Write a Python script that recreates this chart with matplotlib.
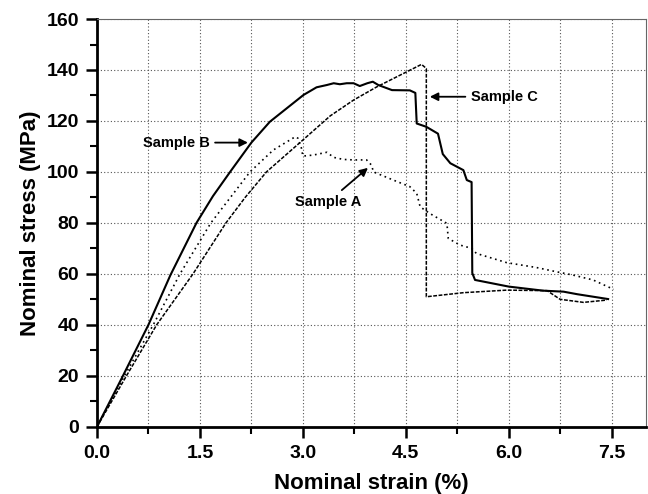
import numpy as np
import matplotlib.pyplot as plt
from matplotlib.ticker import MultipleLocator

plt.rcParams['font.family'] = ['Liberation Sans', 'DejaVu Sans']
plt.rcParams['font.weight'] = 'bold'

# Sample A (dotted)
strain_a = [0, 0.2, 0.4, 0.82, 1.21, 1.66, 2.23, 2.57, 2.89, 2.93, 2.98, 3.0, 3.15, 3.35,
            3.45, 3.59, 3.74, 3.93, 4.0, 4.03, 4.3, 4.56, 4.66, 4.71, 4.85, 5.1, 5.12,
            5.29, 5.46, 5.53, 5.97, 6.4, 6.7, 6.94, 7.23, 7.53]
stress_a = [0, 10, 20, 40, 60, 80, 100, 108.6, 113.8, 113.2, 109.3, 106.2, 106.6, 107.7,
            105.7, 104.9, 104.7, 104.7, 102.7, 100, 97, 94.2, 91.6, 86.3, 83.7, 79.8, 73.9,
            71.3, 70, 68, 64.4, 62.5, 60.8, 59.5, 57.6, 53.9]

# Sample B (solid)
strain_b = [0, 0.36, 0.75, 1.07, 1.45, 1.69, 1.94, 2.25, 2.52, 3.01, 3.2,
            3.35, 3.45, 3.54, 3.64, 3.74, 3.83, 3.94, 4.02, 4.1, 4.3, 4.56, 4.64, 4.66,
            4.8, 4.97, 5.04, 5.15, 5.34, 5.39, 5.46, 5.47, 5.51, 6.0, 6.5, 6.8, 7.0, 7.45]
stress_b = [0, 19, 40, 59.5, 80, 90.5, 100, 111.5, 119.7, 130.2, 133.2,
            134.1, 134.8, 134.4, 134.8, 134.8, 133.7, 134.8, 135.4, 134.1, 132.1, 132, 131,
            119, 117.7, 115, 107, 103.4, 100.7, 96.8, 96, 60.3, 57.6, 55, 53.4, 53, 52, 50.1]

# Sample C (dashed)
strain_c = [0, 0.43, 0.87, 1.40, 1.88, 2.16, 2.47, 3.0, 3.4, 3.74, 4.08, 4.73, 4.8, 4.8,
            5.34, 5.97, 6.56, 6.75, 7.09, 7.43]
stress_c = [0, 20, 40, 60, 80, 90, 100, 112.5, 122, 128.2, 133.4, 142.2, 140.6, 51,
            52.6, 53.6, 53.4, 50, 48.8, 49.7]

fig = plt.figure(figsize=(6.48, 4.94), dpi=100)
ax = fig.add_axes([0.1497, 0.1362, 0.847, 0.8253])

ax.plot(strain_a, stress_a, color='black', lw=1.2, linestyle=(0, (1, 2.2)))
ax.plot(strain_b, stress_b, color='black', lw=1.5, linestyle='-')
ax.plot(strain_c, stress_c, color='black', lw=1.1, linestyle=(0, (2.5, 1)))

ax.set_xlim(0, 8.0)
ax.set_ylim(0, 160)
ax.xaxis.set_major_locator(MultipleLocator(1.5))
ax.xaxis.set_minor_locator(MultipleLocator(0.75))
ax.yaxis.set_major_locator(MultipleLocator(20))
ax.yaxis.set_minor_locator(MultipleLocator(10))
ax.xaxis.set_major_formatter(plt.FormatStrFormatter('%.1f'))

ax.grid(True, which='major', axis='y', color='#555555', linestyle=(0, (1, 2)), lw=0.8)
ax.grid(True, which='both', axis='x', color='#555555', linestyle=(0, (1, 2)), lw=0.8)
ax.set_axisbelow(True)

ax.tick_params(which='major', direction='out', length=8, width=1.8, labelsize=14, pad=5)
ax.tick_params(which='minor', direction='out', length=5, width=1.5)
ax.tick_params(top=False, right=False)
for lab in ax.get_xticklabels() + ax.get_yticklabels():
    lab.set_fontweight('bold')

ax.spines['left'].set_linewidth(2)
ax.spines['bottom'].set_linewidth(2)
ax.spines['top'].set_linewidth(0.8)
ax.spines['right'].set_linewidth(0.8)
ax.spines['top'].set_color('#666666')
ax.spines['right'].set_color('#666666')

ax.set_xlabel('Nominal strain (%)', fontsize=16, fontweight='bold', labelpad=8)
ax.set_ylabel('Nominal stress (MPa)', fontsize=16, fontweight='bold', labelpad=4)

arrow = dict(arrowstyle='-|>', color='black', lw=1.3, mutation_scale=12)
ax.annotate('Sample B', xy=(2.24, 111.5), xytext=(1.64, 111.5), fontsize=10.5,
            fontweight='bold', ha='right', va='center', arrowprops=arrow)
ax.annotate('Sample C', xy=(4.81, 129.5), xytext=(5.45, 129.5), fontsize=10.5,
            fontweight='bold', ha='left', va='center', arrowprops=arrow)
ax.annotate('Sample A', xy=(3.98, 102.3), xytext=(3.37, 88.3), fontsize=10.5,
            fontweight='bold', ha='center', va='center', arrowprops=arrow)

fig.savefig('out.png', dpi=100)
